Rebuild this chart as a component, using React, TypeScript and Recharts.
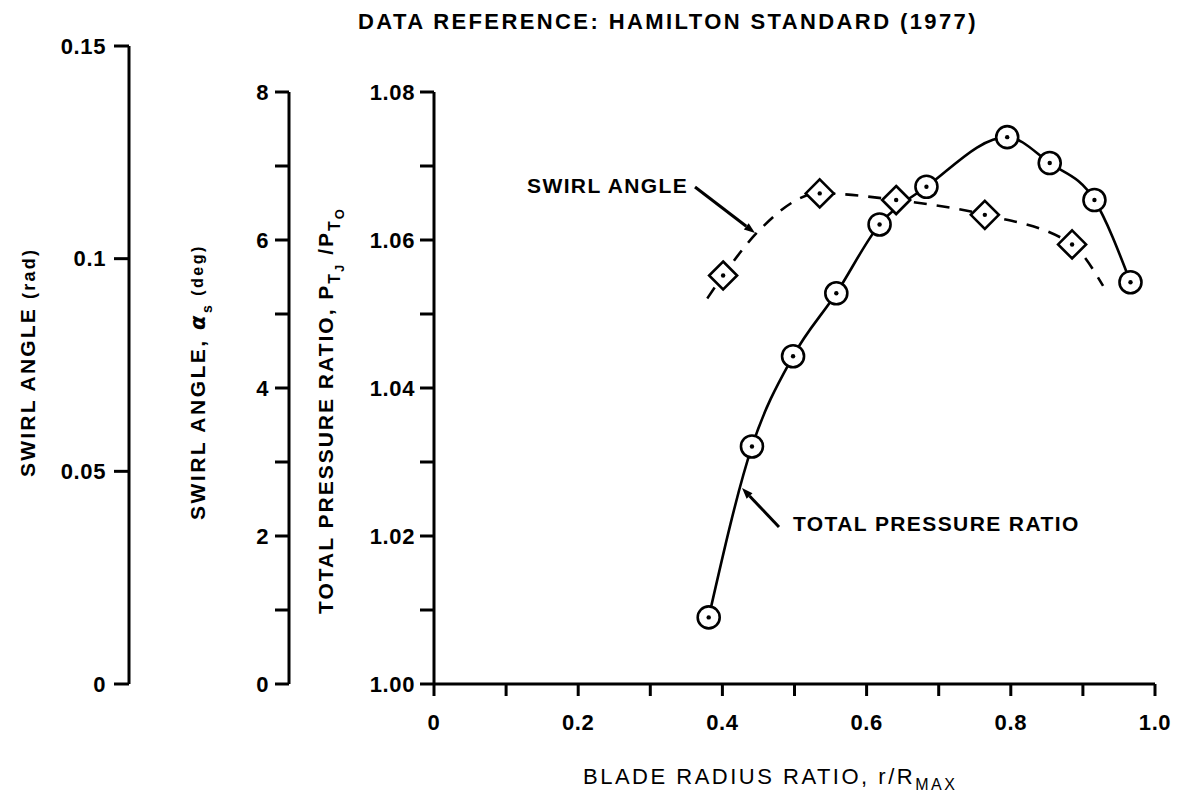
import React from "react";
import { ComposedChart, Line, Scatter, XAxis, YAxis } from "recharts";

// blade radius ratio r/Rmax
const radiusTicks = [0, 0.1, 0.2, 0.3, 0.4, 0.5, 0.6, 0.7, 0.8, 0.9, 1.0];
const radiusLabels = ["0", "", "0.2", "", "0.4", "", "0.6", "", "0.8", "", "1.0"];

const pressureTicks = [1.0, 1.01, 1.02, 1.03, 1.04, 1.05, 1.06, 1.07, 1.08];
const pressureLabels = ["1.00", "", "1.02", "", "1.04", "", "1.06", "", "1.08"];

const degTicks = [0, 1, 2, 3, 4, 5, 6, 7, 8];
const degLabels = ["0", "", "2", "", "4", "", "6", "", "8"];

const radTicks = [0, 0.05, 0.1, 0.15];
const radLabels = ["0", "0.05", "0.1", "0.15"];

// total pressure ratio PTJ/PTO (circles, solid curve)
const pressureX = [0.381, 0.441, 0.498, 0.558, 0.618, 0.683, 0.795, 0.854, 0.916, 0.966];
const pressureRatio = [1.009, 1.0321, 1.0443, 1.0528, 1.0621, 1.0672, 1.0739, 1.0704, 1.0654, 1.0543];

// swirl angle, deg (diamonds)
const swirlX = [0.401, 0.535, 0.641, 0.764, 0.885];
const swirlDeg = [5.52, 6.63, 6.54, 6.34, 5.94];

// dashed fairing curve for swirl angle
const swirlCurveX = [0.379, 0.401, 0.451, 0.535, 0.641, 0.764, 0.885, 0.928];
const swirlCurveDeg = [5.21, 5.52, 6.13, 6.63, 6.54, 6.34, 5.94, 5.38];

const FONT = '"Liberation Sans", Arial, sans-serif';

const pressureData = pressureX.map((x, i) => ({ x, y: pressureRatio[i] }));
const swirlData = swirlX.map((x, i) => ({ x, y: swirlDeg[i] }));
const swirlCurve = swirlCurveX.map((x, i) => ({ x, y: swirlCurveDeg[i] }));

const labelFor = (ticks: number[], labels: string[]) => (v: number) => {
  const i = ticks.findIndex((t) => Math.abs(t - v) < 1e-6);
  return i >= 0 ? labels[i] : "";
};

const tickStyle = {
  fontSize: 22,
  fontWeight: "bold",
  fill: "#000",
  fontFamily: FONT,
  letterSpacing: 0.6,
};
const axisStroke = { stroke: "#000", strokeWidth: 3 };

function CircleMark(props: any) {
  const { cx, cy } = props;
  if (cx == null || cy == null) return null;
  return (
    <g>
      <circle cx={cx} cy={cy} r={11} fill="#fff" stroke="#000" strokeWidth={2.6} />
      <circle cx={cx} cy={cy} r={2.2} fill="#000" />
    </g>
  );
}

function DiamondMark(props: any) {
  const { cx, cy } = props;
  if (cx == null || cy == null) return null;
  const h = 14;
  return (
    <g>
      <path
        d={`M${cx},${cy - h}L${cx + h},${cy}L${cx},${cy + h}L${cx - h},${cy}Z`}
        fill="#fff"
        stroke="#000"
        strokeWidth={2.6}
      />
      <circle cx={cx} cy={cy} r={2.2} fill="#000" />
    </g>
  );
}

function Arrow({ x1, y1, x2, y2 }: { x1: number; y1: number; x2: number; y2: number }) {
  const ang = Math.atan2(y2 - y1, x2 - x1);
  const len = 11;
  const w = 4;
  const bx = x2 - len * Math.cos(ang);
  const by = y2 - len * Math.sin(ang);
  const px = -Math.sin(ang) * w;
  const py = Math.cos(ang) * w;
  return (
    <g>
      <line x1={x1} y1={y1} x2={bx} y2={by} stroke="#000" strokeWidth={3} />
      <path d={`M${x2},${y2}L${bx + px},${by + py}L${bx - px},${by - py}Z`} fill="#000" />
    </g>
  );
}

export default function App() {
  return (
    <div
      style={{
        position: "relative",
        width: 1189,
        height: 805,
        margin: -8,
        background: "#fff",
        fontFamily: FONT,
      }}
    >
      {/* swirl angle in radians: its own taller axis */}
      <div style={{ position: "absolute", left: 0, top: 0 }}>
        <ComposedChart width={140} height={805} margin={{ top: 46, right: 0, bottom: 121, left: 0 }}>
          <XAxis
            xAxisId="r"
            type="number"
            dataKey="x"
            domain={[0, 1]}
            allowDataOverflow
            hide
            height={0}
          />
          <YAxis
            yAxisId="rad"
            type="number"
            domain={[0, 0.15]}
            allowDataOverflow
            ticks={radTicks}
            interval={0}
            tickFormatter={labelFor(radTicks, radLabels)}
            width={129}
            tick={tickStyle}
            tickSize={15}
            tickMargin={8}
            axisLine={axisStroke}
            tickLine={axisStroke}
          />
        </ComposedChart>
      </div>

      <div style={{ position: "absolute", left: 0, top: 0 }}>
        <ComposedChart width={1189} height={805} margin={{ top: 92, right: 34, bottom: 61, left: 189 }}>
          <XAxis
            type="number"
            dataKey="x"
            domain={[0, 1]}
            ticks={radiusTicks}
            interval={0}
            tickFormatter={labelFor(radiusTicks, radiusLabels)}
            height={60}
            tick={tickStyle}
            tickSize={12}
            tickMargin={18}
            axisLine={axisStroke}
            tickLine={axisStroke}
          />
          {/* inner axis: pressure ratio */}
          <YAxis
            yAxisId="pressure"
            type="number"
            domain={[1.0, 1.08]}
            ticks={pressureTicks}
            interval={0}
            tickFormatter={labelFor(pressureTicks, pressureLabels)}
            width={145}
            tick={tickStyle}
            tickSize={14}
            tickMargin={5}
            axisLine={axisStroke}
            tickLine={axisStroke}
          />
          {/* outer axis: swirl angle in degrees */}
          <YAxis
            yAxisId="swirl"
            type="number"
            domain={[0, 8]}
            ticks={degTicks}
            interval={0}
            tickFormatter={labelFor(degTicks, degLabels)}
            width={100}
            tick={tickStyle}
            tickSize={14}
            tickMargin={6}
            axisLine={axisStroke}
            tickLine={axisStroke}
          />
          <Line
            yAxisId="swirl"
            data={swirlCurve}
            dataKey="y"
            type="monotone"
            stroke="#000"
            strokeWidth={2.6}
            strokeDasharray="13 10"
            dot={false}
            activeDot={false}
            isAnimationActive={false}
          />
          <Line
            yAxisId="pressure"
            data={pressureData}
            dataKey="y"
            type="monotone"
            stroke="#000"
            strokeWidth={2.6}
            dot={false}
            activeDot={false}
            isAnimationActive={false}
          />
          <Scatter
            yAxisId="swirl"
            data={swirlData}
            dataKey="y"
            shape={DiamondMark}
            isAnimationActive={false}
          />
          <Scatter
            yAxisId="pressure"
            data={pressureData}
            dataKey="y"
            shape={CircleMark}
            isAnimationActive={false}
          />
        </ComposedChart>
      </div>

      <svg
        width={1189}
        height={805}
        style={{ position: "absolute", left: 0, top: 0, pointerEvents: "none" }}
        fontFamily={FONT}
      >
        <text x={668} y={29} fontSize={22} fontWeight="bold" textAnchor="middle" letterSpacing={2.4}>
          DATA REFERENCE:  HAMILTON STANDARD (1977)
        </text>

        <text x={583} y={784} fontSize={22} letterSpacing={2.5}>
          BLADE RADIUS RATIO, r/R
          <tspan fontSize={16} dy={6}>MAX</tspan>
        </text>

        <text x={527} y={193} fontSize={21} fontWeight="bold" letterSpacing={1.4}>
          SWIRL ANGLE
        </text>
        <Arrow x1={695} y1={187} x2={755} y2={233} />

        <text x={793} y={531} fontSize={21} fontWeight="bold" letterSpacing={1.4}>
          TOTAL PRESSURE RATIO
        </text>
        <Arrow x1={779} y1={527} x2={742} y2={488} />

        <text
          x={35}
          y={477}
          transform="rotate(-90 35 477)"
          fontSize={21}
          fontWeight="bold"
          letterSpacing={2.2}
        >
          SWIRL ANGLE <tspan fontSize={18}>(rad)</tspan>
        </text>

        <text
          x={205}
          y={520}
          transform="rotate(-90 205 520)"
          fontSize={21}
          fontWeight="bold"
          letterSpacing={2.5}
        >
          SWIRL ANGLE,{" "}
          <tspan fontStyle="italic" fontFamily='"DejaVu Sans", sans-serif'>α</tspan>
          <tspan fontSize={14} dy={7}>s</tspan>
          <tspan fontSize={16} dy={-9}> (deg)</tspan>
        </text>

        <text
          x={333}
          y={614}
          transform="rotate(-90 333 614)"
          fontSize={21}
          fontWeight="bold"
          letterSpacing={2}
        >
          TOTAL PRESSURE RATIO, P
          <tspan fontSize={16} dy={7}>T</tspan>
          <tspan fontSize={13} dy={4}>J</tspan>
          <tspan fontSize={21} dy={-11}> /P</tspan>
          <tspan fontSize={16} dy={7}>T</tspan>
          <tspan fontSize={13} dy={4}>O</tspan>
        </text>
      </svg>
    </div>
  );
}
